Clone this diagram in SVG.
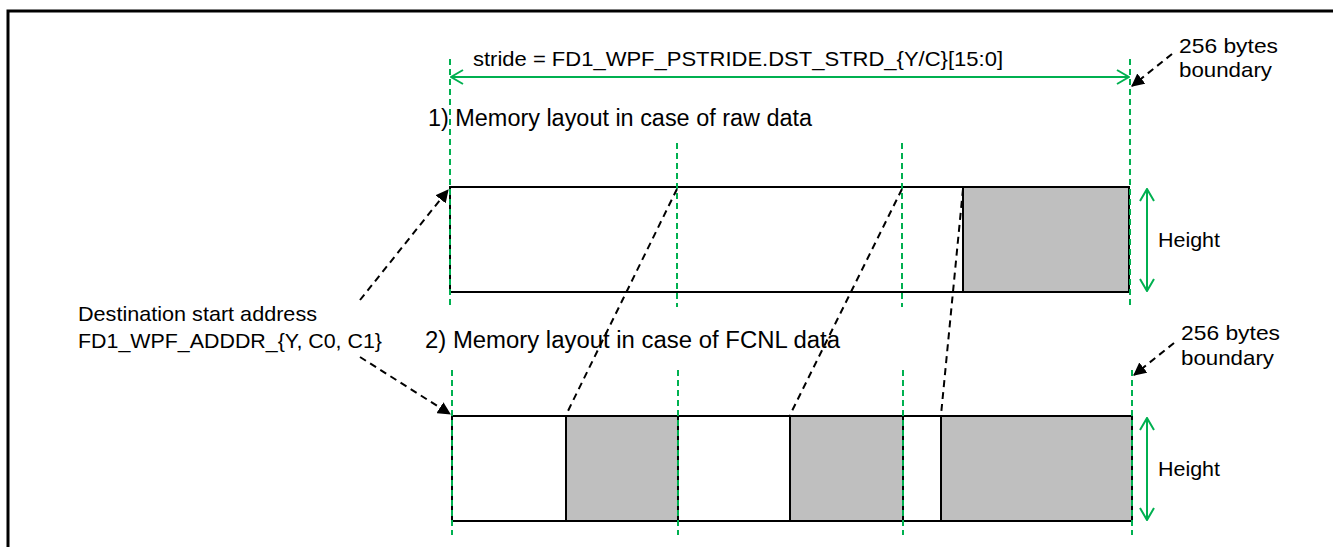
<svg xmlns="http://www.w3.org/2000/svg" width="1333" height="547" viewBox="0 0 1333 547">
<style>
text{font-family:"Liberation Sans",Arial,sans-serif;font-size:21px;fill:#000}
.hdr{font-size:23px}
.box{fill:#fff;stroke:#000;stroke-width:2}
.gray{fill:#bfbfbf;stroke:#000;stroke-width:2}
.guide{stroke:#00b050;stroke-width:2;stroke-dasharray:6 4;fill:none}
.garrow{stroke:#00b050;stroke-width:2;fill:none;marker-start:url(#gopen);marker-end:url(#gopen)}
.ptr{stroke:#000;stroke-width:2;stroke-dasharray:7 5;fill:none}
.ptrA{stroke:#000;stroke-width:2;stroke-dasharray:7 5;fill:none;marker-end:url(#bhead)}
</style>
<defs>
<marker id="gopen" viewBox="0 0 14 16" refX="13" refY="8" markerWidth="14" markerHeight="16" markerUnits="userSpaceOnUse" orient="auto-start-reverse">
<path d="M1,1 L13,8 L1,15" fill="none" stroke="#00b050" stroke-width="2"/>
</marker>
<marker id="bhead" viewBox="0 0 12 12" refX="11" refY="6" markerWidth="13" markerHeight="13" markerUnits="userSpaceOnUse" orient="auto">
<path d="M0,0 L12,6 L0,12 Z" fill="#000"/>
</marker>
</defs>
<rect width="1333" height="547" fill="#fff"/>
<path d="M8,547 V11 H1333" fill="none" stroke="#000" stroke-width="3"/>

<g id="stride-label">
<text x="473" y="66" textLength="530" lengthAdjust="spacingAndGlyphs">stride = FD1_WPF_PSTRIDE.DST_STRD_{Y/C}[15:0]</text>
</g>
<g id="boundary-top">
<text x="1179" y="53" textLength="99" lengthAdjust="spacingAndGlyphs">256 bytes</text>
<text x="1179" y="77" textLength="93" lengthAdjust="spacingAndGlyphs">boundary</text>
</g>
<g id="title-raw">
<text class="hdr" x="428" y="126" textLength="384" lengthAdjust="spacingAndGlyphs">1) Memory layout in case of raw data</text>
</g>
<g id="raw-layout">
<rect class="box" x="450" y="187" width="513" height="105"/>
<rect class="gray" x="963" y="187" width="166" height="105"/>
</g>
<g id="height-top">
<text x="1158" y="247" textLength="62" lengthAdjust="spacingAndGlyphs">Height</text>
</g>
<g id="dest-label">
<text x="78" y="321" textLength="239" lengthAdjust="spacingAndGlyphs">Destination start address</text>
<text x="78" y="348" textLength="304" lengthAdjust="spacingAndGlyphs">FD1_WPF_ADDDR_{Y, C0, C1}</text>
</g>
<g id="title-fcnl">
<text class="hdr" x="425" y="348" textLength="415" lengthAdjust="spacingAndGlyphs">2) Memory layout in case of FCNL data</text>
</g>
<g id="boundary-bottom">
<text x="1181" y="340" textLength="99" lengthAdjust="spacingAndGlyphs">256 bytes</text>
<text x="1181" y="365" textLength="93" lengthAdjust="spacingAndGlyphs">boundary</text>
</g>
<g id="fcnl-layout">
<rect class="box" x="452" y="416" width="680" height="105"/>
<rect class="gray" x="566" y="416" width="112" height="105"/>
<rect class="gray" x="790" y="416" width="113" height="105"/>
<rect class="gray" x="941" y="416" width="191" height="105"/>
</g>
<g id="height-bottom">
<text x="1158" y="476" textLength="62" lengthAdjust="spacingAndGlyphs">Height</text>
</g>

<g id="connectors">
<line class="guide" x1="450" y1="59" x2="450" y2="307"/>
<line class="guide" x1="677" y1="143" x2="677" y2="307"/>
<line class="guide" x1="902" y1="143" x2="902" y2="307"/>
<line class="guide" x1="1130" y1="59" x2="1130" y2="305"/>
<line class="guide" x1="452" y1="370" x2="452" y2="535"/>
<line class="guide" x1="678" y1="370" x2="678" y2="535"/>
<line class="guide" x1="903" y1="370" x2="903" y2="535"/>
<line class="guide" x1="1132" y1="370" x2="1132" y2="535"/>
<line class="garrow" x1="451" y1="77" x2="1129" y2="77"/>
<line class="garrow" x1="1147" y1="189" x2="1147" y2="291"/>
<line class="garrow" x1="1147" y1="418" x2="1147" y2="520"/>
<line class="ptrA" x1="1172" y1="54" x2="1132" y2="86"/>
<line class="ptrA" x1="1174" y1="343" x2="1134" y2="375"/>
<line class="ptrA" x1="360" y1="300" x2="448" y2="190"/>
<line class="ptrA" x1="360" y1="357" x2="450" y2="414"/>
<line class="ptr" x1="677" y1="189" x2="566" y2="415"/>
<line class="ptr" x1="902" y1="189" x2="790" y2="415"/>
<line class="ptr" x1="963" y1="189" x2="941" y2="415"/>
</g>
</svg>
